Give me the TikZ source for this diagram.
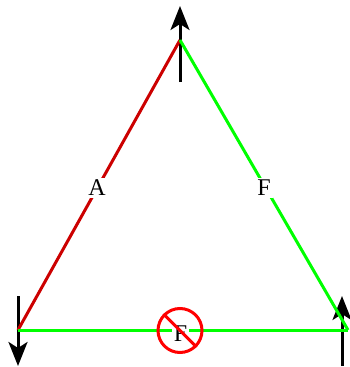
\documentclass[tikz,border=0pt]{standalone}
\usepackage{fontspec}
\setmainfont{Liberation Serif}
\usetikzlibrary{arrows.meta}
\definecolor{edgeRed}{HTML}{CC0000}
\definecolor{edgeGreen}{HTML}{00FF00}
\definecolor{signRed}{HTML}{FF0000}
\tikzset{
  force/.style={-{Stealth[length=24pt, width=19pt, inset=6pt]}, line width=3pt, black},
  edgeA/.style={line width=3pt, edgeRed},
  edgeF/.style={line width=3pt, edgeGreen},
  lbl/.style={font=\fontsize{24}{26}\selectfont, fill=white, inner sep=2pt},
  nosign/.style={circle, draw=signRed, line width=3pt, minimum size=44pt, inner sep=0pt},
  noslash/.style={line width=3pt, signRed},
}
\begin{document}
\begin{tikzpicture}[x=1pt, y=-1pt]
  \useasboundingbox (0,0) rectangle (350,367);
  \coordinate (top) at (180,40);
  \coordinate (left) at (18,330);
  \coordinate (right) at (348,330);
  \coordinate (topS) at (180,82);
  \coordinate (topE) at (180,6);
  \coordinate (leftS) at (18,296);
  \coordinate (leftE) at (18,366);
  \coordinate (rightS) at (342,366);
  \coordinate (rightE) at (342,296);
  \draw[force] (topS) -- (topE);
  \draw[force] (leftS) -- (leftE);
  \draw[force] (rightS) -- (rightE);
  \draw[edgeA] (left) -- (top);
  \draw[edgeF] (top) -- (right);
  \draw[edgeF] (left) -- (right);
  \node[lbl] (labA) at (97,188) {A};
  \node[lbl] (labF) at (264,188) {F};
  \node[lbl] (labG) at (180.5,334) {F};
  \node[nosign] (sign) at (180,330.5) {};
  \draw[noslash] (sign.135) -- (sign.-45);
\end{tikzpicture}
\end{document}
